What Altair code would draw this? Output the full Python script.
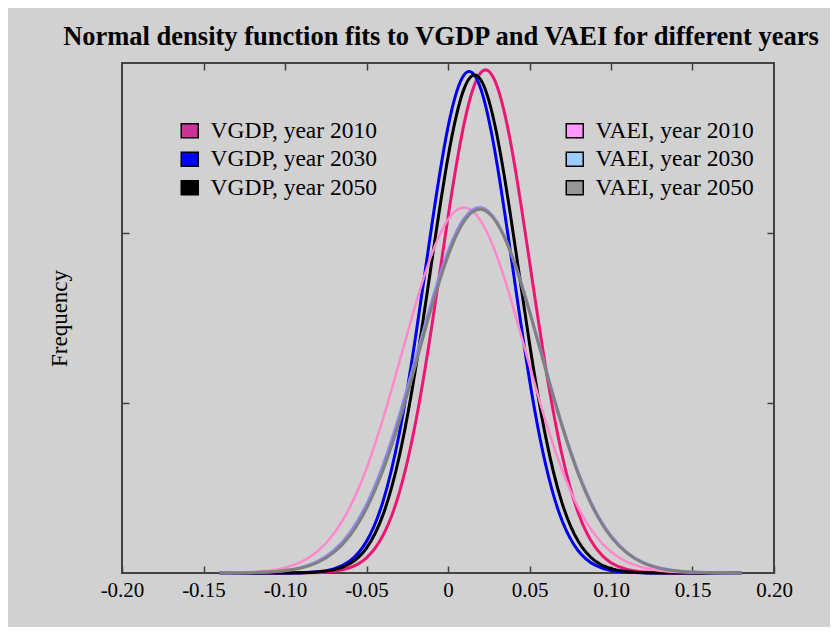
import altair as alt
import pandas as pd

# ---------------- data ----------------
X = [-0.14, -0.13, -0.12, -0.11, -0.10, -0.09, -0.08, -0.07, -0.06, -0.05,
     -0.04, -0.03, -0.02, -0.01, 0.00, 0.01, 0.02, 0.03, 0.04, 0.05,
     0.06, 0.07, 0.08, 0.09, 0.10, 0.11, 0.12, 0.13, 0.14, 0.15,
     0.16, 0.17, 0.18]

VGDP_2010 = [0, 0, 0, 0, 0.0001, 0.0007, 0.0028, 0.0101, 0.0322, 0.0896,
             0.219, 0.468, 0.879, 1.448, 2.092, 2.649, 2.943, 2.866, 2.449, 1.834,
             1.205, 0.694, 0.351, 0.156, 0.0604, 0.0206, 0.0062, 0.0016, 0.0004, 0,
             0, 0, 0]
VGDP_2030 = [0, 0, 0, 0.0001, 0.0004, 0.0018, 0.0072, 0.0244, 0.0722, 0.186,
             0.417, 0.815, 1.382, 2.041, 2.623, 2.932, 2.851, 2.412, 1.776, 1.137,
             0.634, 0.307, 0.1296, 0.0476, 0.0152, 0.0042, 0.0010, 0.0002, 0, 0,
             0, 0, 0]
VGDP_2050 = [0, 0, 0, 0.0001, 0.0003, 0.0013, 0.0053, 0.0184, 0.0556, 0.147,
             0.339, 0.681, 1.195, 1.830, 2.445, 2.852, 2.903, 2.578, 1.999, 1.352,
             0.798, 0.411, 0.185, 0.0726, 0.0249, 0.0074, 0.0019, 0.0004, 0.0001, 0,
             0, 0, 0]
VAEI_2010 = [0.0008, 0.0023, 0.0059, 0.0142, 0.0316, 0.0659, 0.1279, 0.2316, 0.391, 0.615,
             0.903, 1.235, 1.576, 1.874, 2.079, 2.150, 2.073, 1.864, 1.563, 1.221,
             0.890, 0.605, 0.383, 0.2264, 0.1247, 0.0641, 0.0307, 0.0137, 0.0057, 0.0022,
             0.0008, 0.0003, 0]
VAEI_2030 = [0.0003, 0.0009, 0.0024, 0.0062, 0.0149, 0.0331, 0.0687, 0.1328, 0.2394, 0.4024,
             0.631, 0.922, 1.256, 1.595, 1.890, 2.087, 2.150, 2.064, 1.848, 1.543,
             1.201, 0.871, 0.590, 0.372, 0.2189, 0.1201, 0.0614, 0.0293, 0.0130, 0.0054,
             0.0021, 0.0008, 0.0003]
VAEI_2050 = [0.0002, 0.0007, 0.0020, 0.0053, 0.0129, 0.0292, 0.0617, 0.1214, 0.2221, 0.3788,
             0.601, 0.888, 1.222, 1.565, 1.865, 2.071, 2.140, 2.059, 1.844, 1.538,
             1.194, 0.863, 0.581, 0.364, 0.2123, 0.1153, 0.0583, 0.0274, 0.0120, 0.0049,
             0.0019, 0.0007, 0.0002]

VGDP_NAMES = ["VGDP, year 2010", "VGDP, year 2030", "VGDP, year 2050"]
VAEI_NAMES = ["VAEI, year 2010", "VAEI, year 2030", "VAEI, year 2050"]
SERIES_VALUES = [VGDP_2010, VGDP_2030, VGDP_2050, VAEI_2010, VAEI_2030, VAEI_2050]

LINE_COLORS = ["#EE1675", "#0000F0", "#000000", "#FF88CC", "#8C8CF0", "#808080"]
LINE_WIDTHS = [3.0, 3.0, 3.0, 2.5, 3.0, 3.0]
VGDP_SWATCH = ["#CC3399", "#0000FF", "#000000"]
VAEI_SWATCH = ["#FF99FF", "#99CCFF", "#969696"]

X_TICKS = [-0.20, -0.15, -0.10, -0.05, 0.0, 0.05, 0.10, 0.15, 0.20]
Y_TICKS = [1, 2]

TITLE = "Normal density function fits to VGDP and VAEI for different years"
SERIF = "Liberation Serif"

# ---------------- build ----------------
names = VGDP_NAMES + VAEI_NAMES
rows = []
for name, vals in zip(names, SERIES_VALUES):
    for xv, yv in zip(X, vals):
        rows.append({"series": name, "x": xv, "y": yv})
df = pd.DataFrame(rows)

xscale = alt.Scale(domain=[-0.2, 0.2], nice=False, zero=False)
yscale = alt.Scale(domain=[0, 3], nice=False)

x_axis = alt.Axis(
    values=X_TICKS, title=None, grid=False, domain=False, labelFlush=False,
    offset=-7, tickSize=7, tickColor="#404040", tickWidth=1.5,
    labelFont=SERIF, labelFontSize=21, labelColor="black", labelPadding=6,
    labelExpr="datum.value == 0 ? '0' : (datum.value < 0 ? '-' : '') + format(abs(datum.value), '.2f')",
)
y_axis = alt.Axis(
    values=Y_TICKS, labels=False, grid=False, domain=False,
    offset=-7, tickSize=7, tickColor="#404040", tickWidth=1.5,
    title="Frequency", titleFont=SERIF, titleFontSize=23, titleFontWeight="normal",
    titleColor="black", titlePadding=50,
)
top_axis = alt.Axis(
    orient="top", values=X_TICKS[1:-1], labels=False, title=None, grid=False, domain=False,
    offset=-7, tickSize=7, tickColor="#404040", tickWidth=1.5,
)
right_axis = alt.Axis(
    orient="right", values=Y_TICKS, labels=False, title=None, grid=False, domain=False,
    offset=-7, tickSize=7, tickColor="#404040", tickWidth=1.5,
)

layers = []
for name, col, w in zip(names, LINE_COLORS, LINE_WIDTHS):
    layers.append(
        alt.Chart(df)
        .transform_filter(alt.datum.series == name)
        .mark_line(color=col, strokeWidth=w, interpolate="natural")
        .encode(
            x=alt.X("x:Q", scale=xscale, axis=x_axis),
            y=alt.Y("y:Q", scale=yscale, axis=y_axis),
        )
    )

RECT = "M-1,-0.82H1V0.82H-1Z"


def legend(lx, ly):
    return alt.Legend(
        title=None, orient="none", legendX=lx, legendY=ly, direction="vertical",
        symbolType=RECT, symbolSize=289, symbolStrokeColor="black",
        symbolStrokeWidth=1.5, symbolOpacity=1,
        labelFont=SERIF, labelFontSize=23.5, labelColor="black", labelOffset=9,
        labelLimit=0, rowPadding=3.5, padding=0,
    )


leg_vgdp = (
    alt.Chart(pd.DataFrame({"series": VGDP_NAMES}))
    .mark_point(filled=True, opacity=0)
    .encode(fill=alt.Fill("series:N", scale=alt.Scale(domain=VGDP_NAMES, range=VGDP_SWATCH),
                          legend=legend(56, 56)))
)
leg_vaei = (
    alt.Chart(pd.DataFrame({"series": VAEI_NAMES}))
    .mark_point(filled=True, opacity=0)
    .encode(color=alt.Color("series:N", scale=alt.Scale(domain=VAEI_NAMES, range=VAEI_SWATCH),
                            legend=legend(441, 56)))
)

main = alt.layer(*layers, leg_vgdp, leg_vaei)

frame_axes = (
    alt.Chart(df)
    .mark_point(opacity=0)
    .encode(
        x=alt.X("x:Q", scale=xscale, axis=top_axis),
        y=alt.Y("y:Q", scale=yscale, axis=right_axis),
    )
)

chart = (
    alt.layer(main, frame_axes)
    .resolve_scale(x="independent", y="independent")
    .properties(
        width=652, height=510,
        title=alt.Title(TITLE, font=SERIF, fontSize=26.5, fontWeight="bold", color="black",
                        anchor="middle", baseline="alphabetic", offset=18, dy=27, dx=-7),
        background="#D1D1D1",
        padding={"left": 114, "top": 55, "right": 56, "bottom": 54},
        autosize="none",
    )
    .configure_view(fill="white", stroke="#444444", strokeWidth=2)
)

chart.save("out.html", embed_options={"renderer": "svg", "actions": False})
